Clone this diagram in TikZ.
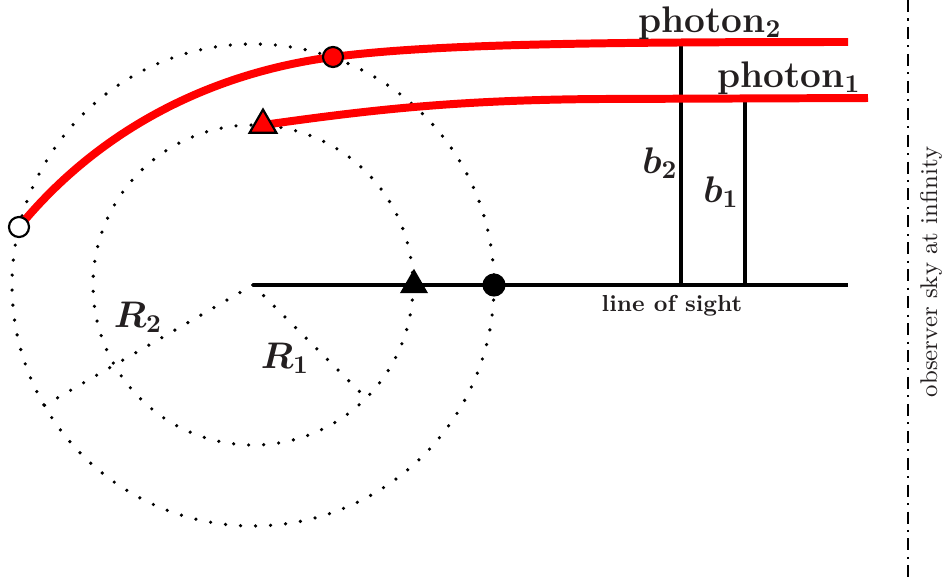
\documentclass[tikz,border=0pt]{standalone}
\usepackage{bm}
\usetikzlibrary{shapes.geometric}
\definecolor{txt}{RGB}{35,31,32}
\begin{document}
\begin{tikzpicture}[x=0.3889pt,y=-0.3889pt,
  redline/.style={red, line width=3.1pt},
  blk/.style={black, line width=1.2pt},
  dotline/.style={black, line width=1.4pt, line cap=round, dash pattern=on 0pt off 5.85pt},
  skyline/.style={black, line width=1.15pt, dash pattern=on 4.67pt off 2.5pt on 0.8pt off 2.5pt},
  opendot/.style={circle, draw=black, fill=white, line width=0.85pt, minimum size=7.8pt, inner sep=0pt},
  reddot/.style={circle, draw=black, fill=red, line width=0.85pt, minimum size=7.8pt, inner sep=0pt},
  blackdot/.style={circle, fill=black, minimum size=9pt, inner sep=0pt},
  redtri/.style={regular polygon, regular polygon sides=3, draw=black, fill=red, line width=0.85pt, minimum size=12pt, inner sep=0pt},
  blacktri/.style={regular polygon, regular polygon sides=3, fill=black, minimum size=12.6pt, inner sep=0pt},
  lab/.style={text=txt, inner sep=0pt, anchor=base},
]
\useasboundingbox (0,0) rectangle (942,581);

% centre and circles
\coordinate (c) at (253,285);
\draw[dotline] (c) circle[radius=241];
\draw[dotline] (c) circle[radius=160];

% radii
\path (c) ++(150:241) coordinate (r2end);
\path (c) ++(45:160) coordinate (r1end);
\draw[dotline] (c) -- (r2end);
\draw[dotline] (c) -- (r1end);

% line of sight
\coordinate (losend) at (848,285);
\draw[blk] (c) -- (losend);

% impact parameters
\coordinate (b2top) at (681,44);
\coordinate (b2bot) at (681,285);
\coordinate (b1top) at (745,99);
\coordinate (b1bot) at (745,285);
\draw[blk] (b2top) -- (b2bot);
\draw[blk] (b1top) -- (b1bot);

% observer sky
\coordinate (skytop) at (908,0);
\coordinate (skybot) at (908,581);
\draw[skyline] (skytop) -- (skybot);

% photon paths
\coordinate (p2start) at (19,227);
\coordinate (p2mid) at (333,57);
\coordinate (p2end) at (848,42);
\coordinate (p1start) at (263,125);
\coordinate (p1flat) at (600,99);
\coordinate (p1end) at (868,98);
\draw[redline] (p2start) .. controls (101,127) and (214,72.5) .. (p2mid)
                         .. controls (432,44) and (598,42) .. (p2end);
\draw[redline] (p1start) .. controls (363,111) and (450,100) .. (p1flat) -- (p1end);

% markers
\node[opendot] (m2start) at (p2start) {};
\node[reddot] (m2mid) at (p2mid) {};
\node[redtri] (m1start) at (p1start) {};
\node[blacktri] (m1los) at (414,285) {};
\node[blackdot] (m2los) at (494,285) {};

% labels
\node[lab] (ph2) at (710,32) {\Large\bfseries photon$_{\mathbf{2}}$};
\node[lab] (ph1) at (789,87) {\Large\bfseries photon$_{\mathbf{1}}$};
\node[lab] (lb2) at (660,173) {\Large$\bm{b_2}$};
\node[lab] (lb1) at (721,202) {\Large$\bm{b_1}$};
\node[lab] (lR2) at (138,327) {\Large$\bm{R_2}$};
\node[lab] (lR1) at (285,368) {\Large$\bm{R_1}$};
\node[lab] (los) at (672,311) {\small\bfseries line of sight};
\node[lab, rotate=90] (sky) at (937,272) {\fontsize{9.4}{11}\selectfont observer sky at infinity};
\end{tikzpicture}
\end{document}
